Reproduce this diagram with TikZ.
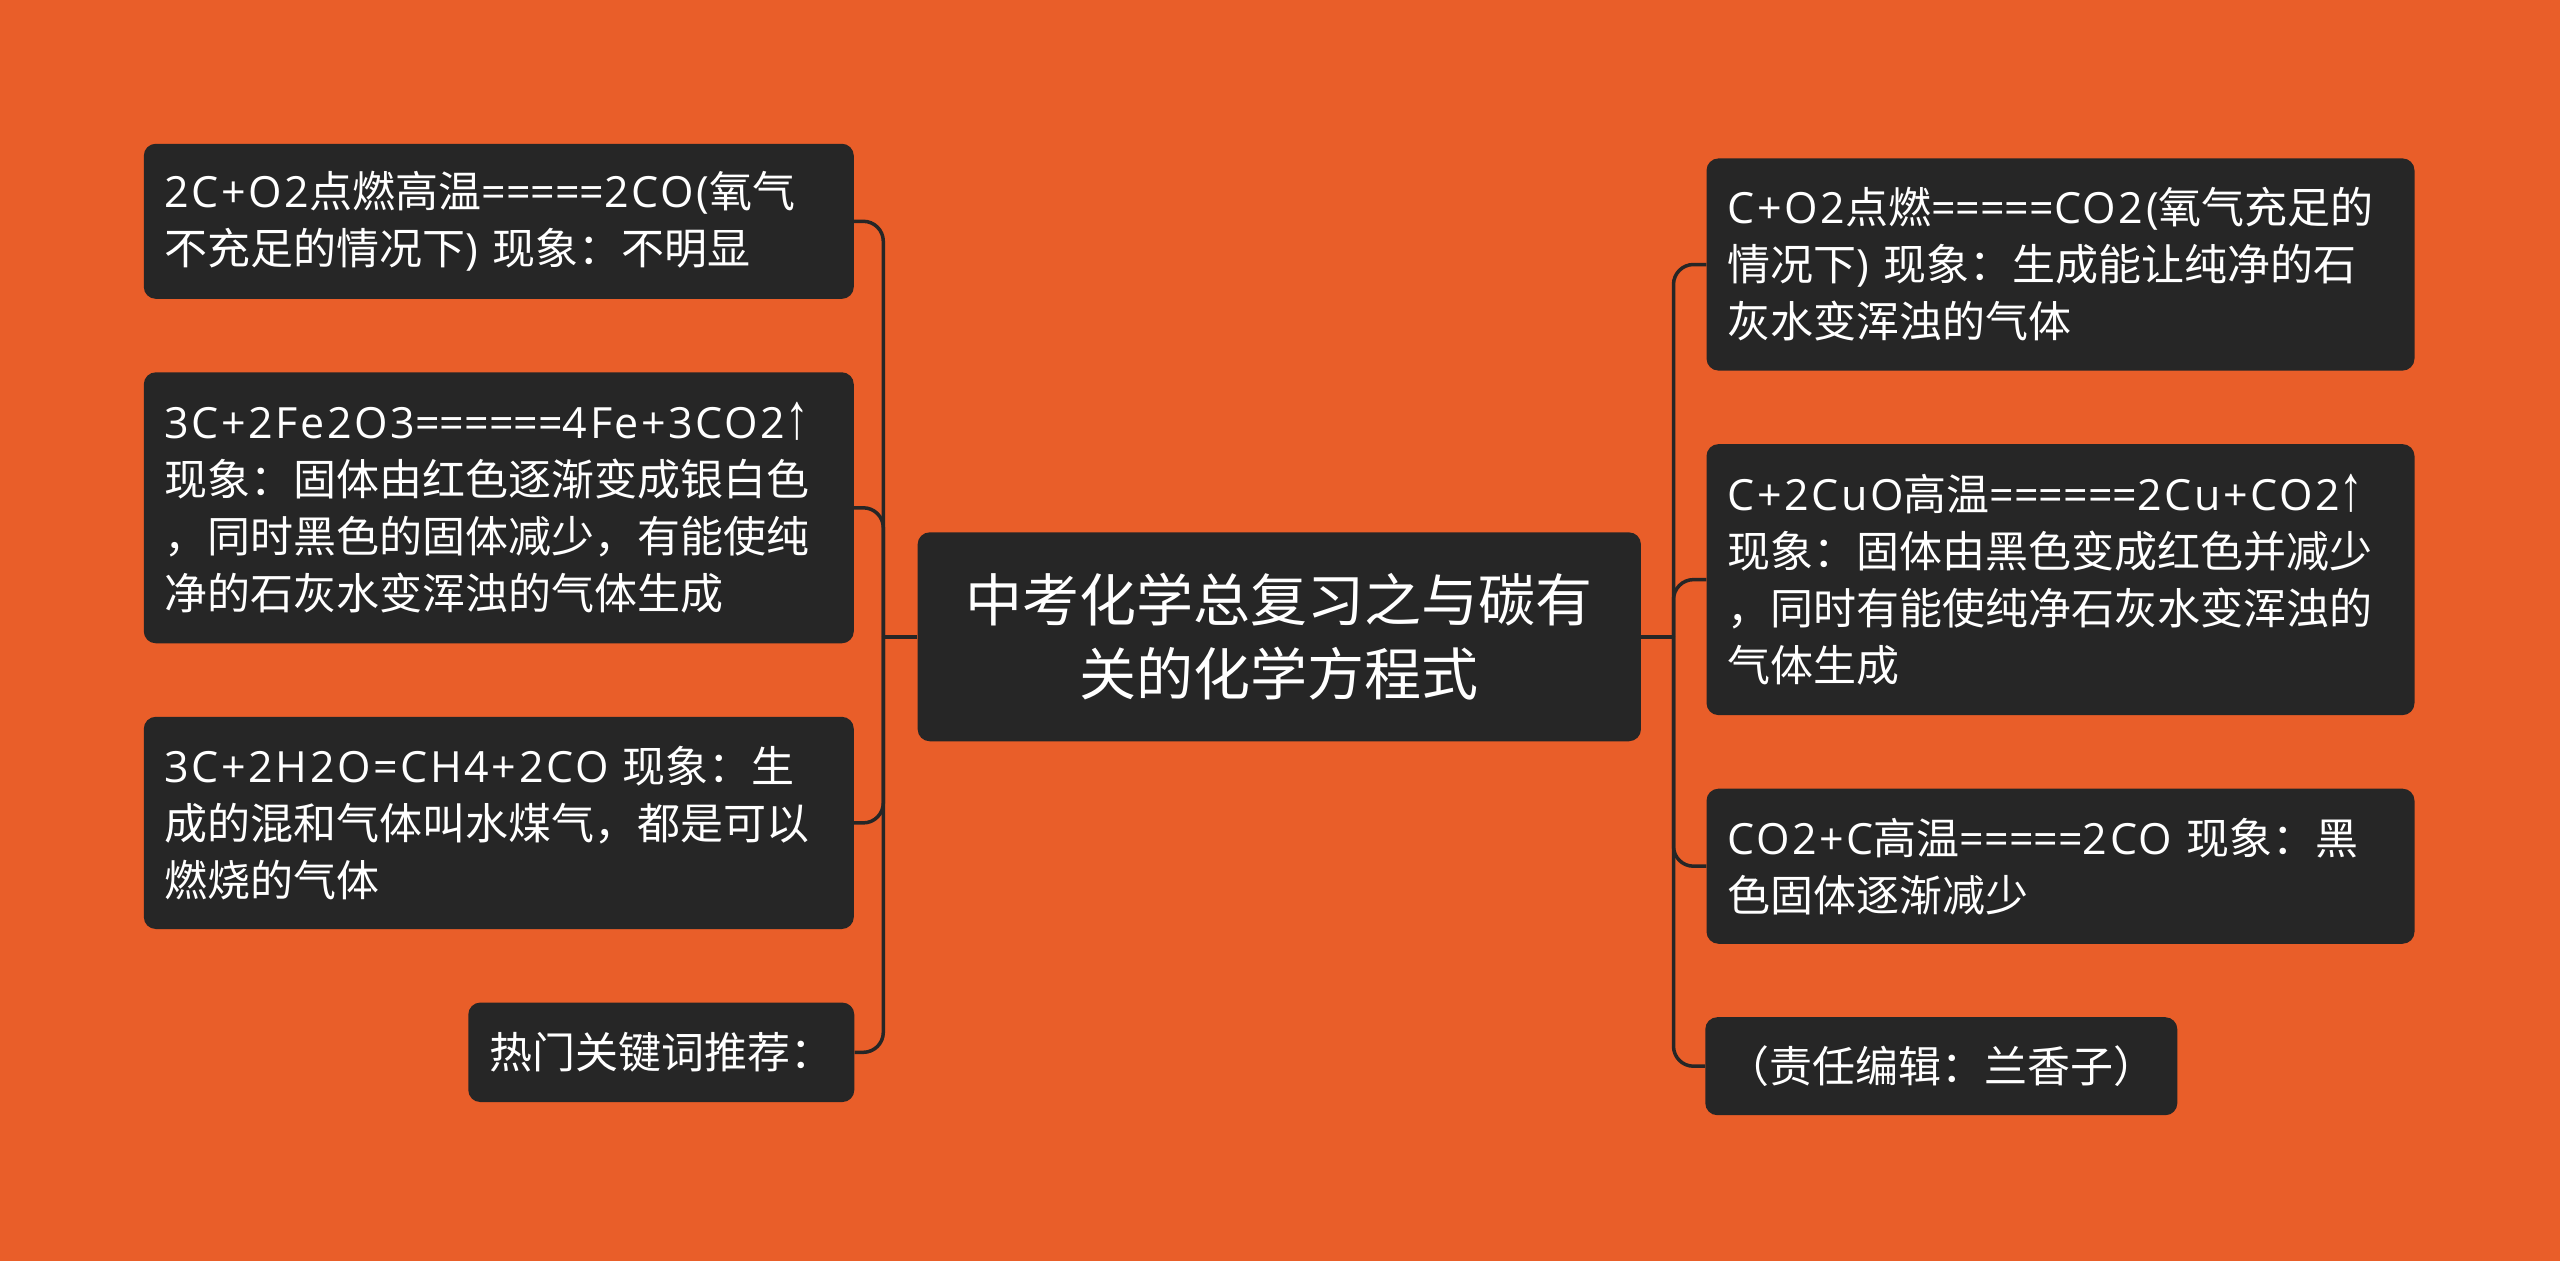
\documentclass[tikz,border=0pt]{standalone}
\usepackage{graphicx}
\usepackage{fontspec}
\setmainfont{Noto Sans CJK SC}
\newfontfamily\latf[LetterSpace=6]{Open Sans}
\newfontfamily\eqf{Open Sans}
\newfontfamily\arrf{Liberation Sans}
\newcommand\LT[1]{{\latf #1}}
\newcommand\EQ[1]{{\eqf #1}}
\newcommand\UPA{\scalebox{1.1}[1.5]{\arrf ↑}}
\definecolor{bgc}{HTML}{E95E29}
\definecolor{boxc}{HTML}{262626}
\begin{document}
\begin{tikzpicture}[x=1pt,y=-1pt,
  box/.style={fill=boxc, rounded corners=12pt, text=white, inner xsep=21pt, inner ysep=0pt,
    font=\fontsize{43}{57}\selectfont, align=left, anchor=center},
  bigbox/.style={box, font=\fontsize{57}{73.5}\selectfont, align=center},
  conn/.style={draw=boxc, line width=3.5pt}]
\fill[bgc] (0,0) rectangle (2560,1261);
\useasboundingbox (0,0) rectangle (2560,1261);

\node[bigbox, minimum width=723.3pt, minimum height=208.9pt] (C) at (1279.3,636.8)
  {中考化学总复习之与碳有\\关的化学方程式};

\node[box, text width=668pt, minimum height=155.1pt] (L1) at (498.8,221.3)
  {\LT{2C+O2}点燃高温\EQ{=====}\LT{2CO(}氧气\\不充足的情况下\LT{) }现象：不明显};
\node[box, text width=668pt, minimum height=271pt] (L2) at (498.8,507.8)
  {\LT{3C+2Fe2O3}\EQ{======}\LT{4Fe+3CO2}\UPA\\现象：固体由红色逐渐变成银白色\\，同时黑色的固体减少，有能使纯\\净的石灰水变浑浊的气体生成};
\node[box, text width=668pt, minimum height=212.2pt] (L3) at (498.8,822.9)
  {\LT{3C+2H2O=CH4+2CO }现象：生\\成的混和气体叫水煤气，都是可以\\燃烧的气体};
\node[box, minimum width=385.3pt, minimum height=99.5pt] (L4) at (661.3,1052.3)
  {热门关键词推荐：};

\node[box, text width=666pt, minimum height=212.2pt] (R1) at (2060.5,264.5)
  {\LT{C+O2}点燃\EQ{=====}\LT{CO2(}氧气充足的\\情况下\LT{) }现象：生成能让纯净的石\\灰水变浑浊的气体};
\node[box, text width=666pt, minimum height=271pt] (R2) at (2060.5,579.6)
  {\LT{C+2CuO}高温\EQ{======}\LT{2Cu+CO2}\UPA\\现象：固体由黑色变成红色并减少\\，同时有能使纯净石灰水变浑浊的\\气体生成};
\node[box, text width=666pt, minimum height=155.1pt] (R3) at (2060.5,866.2)
  {\LT{CO2+C}高温\EQ{=====}\LT{2CO }现象：黑\\色固体逐渐减少};
\node[box, minimum width=470.2pt, minimum height=98pt] (R4) at (1941.3,1066.2)
  {（责任编辑：兰香子）};

\coordinate (jL) at (883.3,636.8);
\coordinate (jR) at (1673.5,636.8);
\foreach \n in {L1,L2,L3,L4} \draw[conn, rounded corners=20pt] (\n.east) -| (jL);
\foreach \n in {R1,R2,R3,R4} \draw[conn, rounded corners=20pt] (\n.west) -| (jR);
\draw[conn] (C.west) -- (jL);
\draw[conn] (C.east) -- (jR);
\end{tikzpicture}
\end{document}
